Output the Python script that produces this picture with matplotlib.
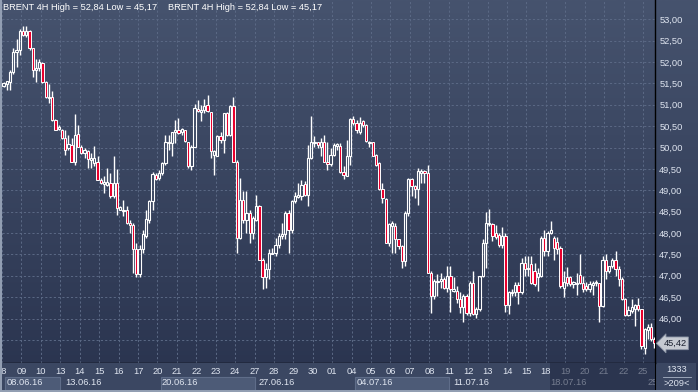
import numpy as np
import pandas as pd
import matplotlib
matplotlib.use("Agg")
import matplotlib.pyplot as plt
from matplotlib.colors import LinearSegmentedColormap
from matplotlib.patches import Rectangle
from matplotlib.lines import Line2D
from matplotlib.ticker import FuncFormatter
from matplotlib.transforms import offset_copy

plt.rcParams['font.family'] = ['Liberation Sans', 'DejaVu Sans']
plt.rcParams['font.size'] = 6.7

# BRENT 4H candles, 6 bars per trading day (last day partial)
opens = [
    51.44, 51.48, 51.54, 51.77, 52.24, 52.29,
    52.73, 52.63, 52.73, 52.32, 51.81, 51.86,
    51.98, 51.54, 51.16, 51.17, 50.65, 50.43,
    50.40, 50.22, 49.98, 50.06, 49.67, 50.32,
    50.02, 49.88, 49.91, 49.71, 49.64, 49.67,
    49.25, 49.15, 49.13, 49.17, 48.86, 49.17,
    48.55, 48.51, 48.55, 48.24, 48.18, 47.62,
    47.03, 47.62, 47.93, 48.31, 48.74, 49.36,
    49.29, 49.40, 49.64, 50.10, 50.10, 50.37,
    50.40, 50.37, 50.40, 50.12, 49.56, 50.02,
    50.90, 50.84, 50.88, 50.99, 50.84, 49.83,
    49.81, 50.26, 50.18, 50.80, 50.30, 50.96,
    49.67, 47.89, 48.78, 48.30, 48.47, 48.00,
    48.31, 48.63, 47.38, 46.96, 47.15, 47.52,
    47.54, 47.73, 47.93, 47.97, 48.47, 48.08,
    48.74, 48.84, 48.86, 49.15, 48.90, 49.75,
    50.10, 50.12, 50.02, 50.14, 49.67, 49.62,
    49.83, 50.04, 50.04, 49.42, 49.34, 49.79,
    50.67, 50.58, 50.37, 50.61, 50.53, 50.10,
    50.12, 49.83, 49.64, 49.03, 48.80, 47.77,
    48.16, 48.16, 47.85, 47.69, 47.34, 48.47,
    49.27, 49.09, 49.04, 49.40, 49.44, 49.40,
    47.07, 46.53, 46.85, 46.88, 46.92, 46.72,
    46.99, 46.64, 46.64, 46.45, 46.26, 46.53,
    46.12, 46.82, 46.10, 46.22, 46.99, 47.77,
    48.22, 48.21, 47.99, 47.95, 47.71, 47.93,
    46.31, 46.59, 46.61, 46.78, 46.61, 47.29,
    47.16, 47.27, 47.11, 46.96, 46.99, 47.89,
    47.58, 47.99, 47.89, 47.79, 47.65, 46.72,
    46.96, 46.96, 46.81, 46.80, 47.01, 46.84,
    46.76, 46.70, 46.78, 46.84, 46.84, 46.29,
    47.38, 47.11, 47.23, 47.38, 47.16, 46.93,
    46.45, 46.08, 46.18, 46.23, 46.31, 46.22,
    45.32, 45.74, 45.81, 45.52,
]
highs = [
    51.54, 51.56, 51.81, 52.32, 52.53, 52.78,
    52.84, 52.84, 52.76, 52.32, 52.08, 52.08,
    52.01, 51.56, 51.48, 51.31, 50.66, 50.53,
    50.43, 50.41, 50.30, 50.22, 50.79, 50.53,
    50.06, 49.98, 49.95, 49.87, 50.04, 49.79,
    49.29, 49.33, 49.52, 49.40, 49.81, 49.50,
    48.64, 48.78, 48.63, 48.31, 48.24, 47.77,
    47.73, 48.08, 48.55, 48.78, 49.42, 49.40,
    49.48, 49.67, 50.30, 50.30, 50.37, 50.65,
    50.68, 50.45, 50.41, 50.14, 50.06, 51.01,
    51.11, 50.99, 51.13, 51.23, 50.84, 49.95,
    50.30, 50.37, 50.80, 50.84, 50.99, 51.17,
    49.71, 49.29, 48.98, 48.98, 48.55, 48.39,
    48.90, 48.66, 47.42, 47.30, 47.63, 47.65,
    47.89, 48.00, 48.24, 48.51, 48.55, 48.78,
    48.95, 49.17, 49.25, 49.21, 50.06, 50.74,
    50.26, 50.14, 50.22, 50.30, 50.14, 49.98,
    50.10, 50.10, 50.10, 49.56, 50.18, 50.68,
    50.74, 50.65, 50.72, 50.65, 50.54, 50.16,
    50.14, 49.85, 49.67, 49.17, 48.82, 48.24,
    48.28, 48.24, 47.86, 47.73, 48.51, 49.29,
    49.29, 49.13, 49.52, 49.50, 49.48, 49.60,
    47.11, 46.92, 47.03, 47.07, 46.96, 47.23,
    47.23, 46.96, 46.76, 46.61, 46.57, 46.57,
    46.88, 47.11, 46.26, 46.96, 47.85, 48.49,
    48.57, 48.24, 48.18, 47.99, 48.14, 48.00,
    46.64, 46.68, 46.85, 46.85, 47.42, 47.46,
    47.46, 47.46, 47.30, 47.19, 47.93, 48.07,
    48.04, 48.27, 47.93, 47.91, 47.69, 47.11,
    47.21, 46.99, 46.88, 47.07, 47.50, 46.99,
    46.85, 46.88, 46.88, 46.90, 46.84, 47.46,
    47.50, 47.24, 47.42, 47.58, 47.23, 46.96,
    46.49, 46.29, 46.45, 46.33, 46.49, 46.22,
    45.79, 45.87, 45.89, 45.56,
]
lows = [
    51.41, 51.35, 51.35, 51.73, 51.89, 52.16,
    52.60, 52.59, 52.29, 51.66, 51.54, 51.80,
    51.52, 51.15, 51.03, 50.63, 50.40, 50.40,
    50.20, 49.83, 49.95, 49.65, 49.60, 50.01,
    49.85, 49.75, 49.52, 49.52, 49.56, 49.23,
    49.15, 48.94, 49.11, 48.82, 48.82, 48.43,
    48.53, 48.39, 48.20, 48.00, 47.07, 46.96,
    46.96, 47.54, 47.89, 48.24, 48.55, 49.25,
    49.25, 49.36, 49.60, 49.95, 49.79, 50.10,
    50.32, 50.30, 50.14, 49.52, 49.48, 50.01,
    50.84, 50.61, 50.80, 50.84, 49.75, 49.36,
    49.79, 50.10, 49.87, 50.27, 50.26, 49.65,
    47.54, 47.85, 48.24, 48.00, 47.77, 47.85,
    48.28, 47.37, 46.68, 46.72, 46.92, 47.50,
    47.46, 47.65, 47.85, 47.85, 47.54, 47.99,
    48.70, 48.82, 48.78, 48.86, 48.63, 49.73,
    50.02, 49.98, 49.79, 49.65, 49.48, 49.56,
    49.79, 49.95, 49.40, 49.26, 49.33, 49.60,
    50.53, 50.33, 50.32, 50.49, 50.14, 50.02,
    49.79, 49.56, 49.01, 48.70, 47.76, 47.69,
    47.54, 47.54, 47.62, 47.19, 47.23, 48.39,
    48.86, 48.82, 48.66, 49.17, 49.17, 47.06,
    46.14, 46.45, 46.53, 46.72, 46.68, 46.61,
    46.15, 46.61, 46.37, 46.14, 45.91, 46.08,
    46.06, 46.08, 46.02, 46.18, 46.96, 47.19,
    48.16, 47.81, 47.85, 47.68, 47.65, 46.15,
    46.10, 46.53, 46.53, 46.33, 46.57, 46.99,
    46.99, 46.80, 46.76, 46.64, 46.96, 47.46,
    47.46, 47.97, 47.38, 47.50, 46.72, 46.51,
    46.76, 46.76, 46.72, 46.54, 46.80, 46.61,
    46.64, 46.62, 46.54, 46.76, 45.91, 46.26,
    46.92, 47.07, 47.19, 46.99, 46.76, 46.43,
    46.05, 46.06, 46.14, 45.83, 46.18, 45.29,
    45.17, 45.52, 45.48, 45.30,
]
closes = [
    51.50, 51.55, 51.77, 52.24, 52.29, 52.73,
    52.63, 52.73, 52.32, 51.81, 51.86, 52.01,
    51.54, 51.17, 51.19, 50.65, 50.41, 50.49,
    50.22, 49.95, 50.08, 49.67, 50.30, 50.02,
    49.87, 49.95, 49.73, 49.76, 49.75, 49.25,
    49.17, 49.19, 49.19, 48.86, 49.17, 48.59,
    48.61, 48.55, 48.24, 48.18, 47.62, 47.03,
    47.62, 47.98, 48.33, 48.74, 49.39, 49.26,
    49.40, 49.64, 50.12, 50.14, 50.37, 50.41,
    50.33, 50.43, 50.16, 49.56, 50.02, 50.92,
    50.86, 50.88, 50.97, 50.86, 49.91, 49.91,
    50.26, 50.18, 50.80, 50.30, 50.96, 49.67,
    47.89, 48.78, 48.30, 48.47, 48.00, 48.35,
    48.63, 47.38, 46.96, 47.15, 47.54, 47.54,
    47.73, 47.93, 47.97, 48.47, 48.08, 48.74,
    48.86, 48.90, 49.13, 48.90, 49.75, 50.12,
    50.14, 50.06, 50.14, 49.67, 49.62, 49.83,
    50.06, 50.08, 49.42, 49.36, 49.79, 50.67,
    50.57, 50.41, 50.57, 50.53, 50.16, 50.14,
    49.81, 49.60, 49.03, 48.82, 47.77, 48.20,
    48.24, 47.85, 47.69, 47.34, 48.47, 49.27,
    49.09, 49.04, 49.44, 49.44, 49.40, 47.07,
    46.53, 46.88, 46.88, 46.92, 46.72, 46.99,
    46.68, 46.68, 46.45, 46.26, 46.53, 46.12,
    46.82, 46.10, 46.23, 46.99, 47.77, 48.24,
    48.24, 47.94, 47.91, 47.71, 47.93, 46.31,
    46.61, 46.62, 46.78, 46.61, 47.29, 47.16,
    47.19, 46.84, 46.80, 47.07, 47.89, 47.58,
    48.00, 48.08, 47.65, 47.63, 46.75, 46.85,
    46.82, 46.80, 46.85, 46.84, 46.82, 46.68,
    46.68, 46.80, 46.84, 46.85, 46.29, 47.38,
    47.11, 47.23, 47.38, 47.15, 46.93, 46.45,
    46.08, 46.19, 46.26, 46.31, 46.23, 45.35,
    45.75, 45.81, 45.52, 45.42,
]

days = pd.bdate_range("2016-06-08", "2016-07-25")
day_labels = [d.strftime("%d") for d in days]
bars_per_day = 6
price_ticks = np.arange(45.5, 53.01, 0.5)
title = "BRENT 4H High = 52,84 Low = 45,17"

W, H = 698, 392
fig = plt.figure(figsize=(W / 100, H / 100), dpi=100)

# gradient background for the whole window
bg = fig.add_axes([0, 0, 1, 1], zorder=-10)
cmap = LinearSegmentedColormap.from_list("bg", ["#29334e", "#46536e"])
bg.imshow(np.linspace(0, 1, 256).reshape(-1, 1), cmap=cmap, aspect="auto",
          extent=[0, 1, 0, 1], origin="lower")
bg.axis("off")

ax = fig.add_axes([2 / W, 29 / H, 653 / W, 363 / H])
ax.set_facecolor("none")

o, h, l, c = map(np.array, (opens, highs, lows, closes))
x = np.arange(len(c))
up = c >= o
top = np.maximum(o, c)
bot = np.minimum(o, c)
ax.vlines(x, top, h, color="white", lw=1, zorder=3)
ax.vlines(x, l, bot, color="white", lw=1, zorder=3)
ax.bar(x[up], (top - bot)[up], bottom=bot[up], width=0.7, facecolor="none",
       edgecolor="white", linewidth=0.8, zorder=4)
ax.bar(x[~up], (top - bot)[~up], bottom=bot[~up], width=0.7, facecolor="#e8002d",
       edgecolor="white", linewidth=0.7, zorder=4)

xmax = 201.2
ax.set_xlim(-0.5, xmax)
ax.set_ylim(44.96, 53.45)
ax.set_xticks([d * bars_per_day - 0.5 for d in range(len(days))])
ax.set_yticks(price_ticks)
ax.grid(True, color="#5b6985", linestyle=(0, (2.2, 2.2)), linewidth=0.7)
ax.tick_params(axis="x", length=0, labelbottom=False)
ax.yaxis.tick_right()
ax.tick_params(axis="y", length=0, pad=3, labelcolor="#dfe5f0")
ax.yaxis.set_major_formatter(FuncFormatter(
    lambda v, p: "" if v < 45.9 else f"{v:.2f}".replace(".", ",")))
for s in ("top", "left"):
    ax.spines[s].set_visible(False)
for s in ("right", "bottom"):
    ax.spines[s].set_color("black")
    ax.spines[s].set_linewidth(1)

# last price tag
ax.annotate(f"{closes[-1]:.2f}".replace(".", ","), xy=(1, closes[-1]),
            xycoords=("axes fraction", "data"), xytext=(6, 0),
            textcoords="offset points", ha="left", va="center", color="#1a2030",
            bbox=dict(boxstyle="larrow,pad=0.2", fc="#c6cad2", ec="#8a93a4", lw=0.6),
            annotation_clip=False, zorder=6)

fig.text(3 / W, 1 - 8 / H, title, color="white", va="center")
fig.text(168 / W, 1 - 8 / H, title, color="white", va="center")

# date strip under the chart
strip = fig.add_axes([2 / W, 2 / H, 653 / W, 27 / H])
strip.set_facecolor("#3b4762")
strip.set_xlim(-0.5, xmax)
strip.set_ylim(0, 1)
strip.set_xticks([])
strip.set_yticks([])
for s in ("top", "left", "bottom"):
    strip.spines[s].set_visible(False)
strip.spines["right"].set_color("black")

for d, lab in enumerate(day_labels):
    strip.text(d * bars_per_day - 0.5, 0.67, lab, ha="center", va="center",
               color="#dfe5f0", clip_on=True)

week_starts = [d for d, day in enumerate(days) if d == 0 or day.weekday() == 0]
shift = offset_copy(strip.transData, fig=fig, x=4.5, y=0, units="dots")
for k, d in enumerate(week_starts):
    x0 = d * bars_per_day - 0.5
    x1 = week_starts[k + 1] * bars_per_day - 0.5 if k + 1 < len(week_starts) else xmax
    if k % 2 == 0 and k < 6:
        strip.add_patch(Rectangle((x0 + 1, 0), x1 - x0 - 1, 0.49, fc="#4d5b77",
                                  ec="#5f6d89", lw=0.8, zorder=1))
    # a week that is cut off by the price panel only has room for the day
    label = days[d].strftime("%d.%m.%y") if x1 - x0 > 10 else days[d].strftime("%d")
    strip.text(x0, 0.26, label, transform=shift,
               ha="left", va="center", color="#dfe5f0", clip_on=True, zorder=2)

# darker scroll area at the right end of the strip
strip.add_patch(Rectangle((week_starts[-2] * bars_per_day + 0.9, 0),
                          xmax, 1, fc="#1e2740", alpha=0.55, lw=0, zorder=5))

# bottom-right info box
fig.text(677 / W, 1 - 370 / H, "1333", ha="center", va="center", color="#dfe5f0")
fig.text(677 / W, 1 - 384 / H, ">209<", ha="center", va="center", color="#dfe5f0")
fig.add_artist(Line2D([663 / W, 691 / W], [1 - 377 / H] * 2, color="#aab4c6", lw=0.6))
fig.add_artist(Rectangle((655 / W, 2 / H), 41 / W, 27 / H, transform=fig.transFigure,
                         fc="#3b4762", lw=0, zorder=-5))

# window frame
fig.add_artist(Line2D([0.7 / W, 0.7 / W], [0, 1], color="#95a1b5", lw=1.4))
fig.add_artist(Line2D([0, 1], [0.7 / H, 0.7 / H], color="#95a1b5", lw=1.4))

fig.savefig("out.png", dpi=100)
